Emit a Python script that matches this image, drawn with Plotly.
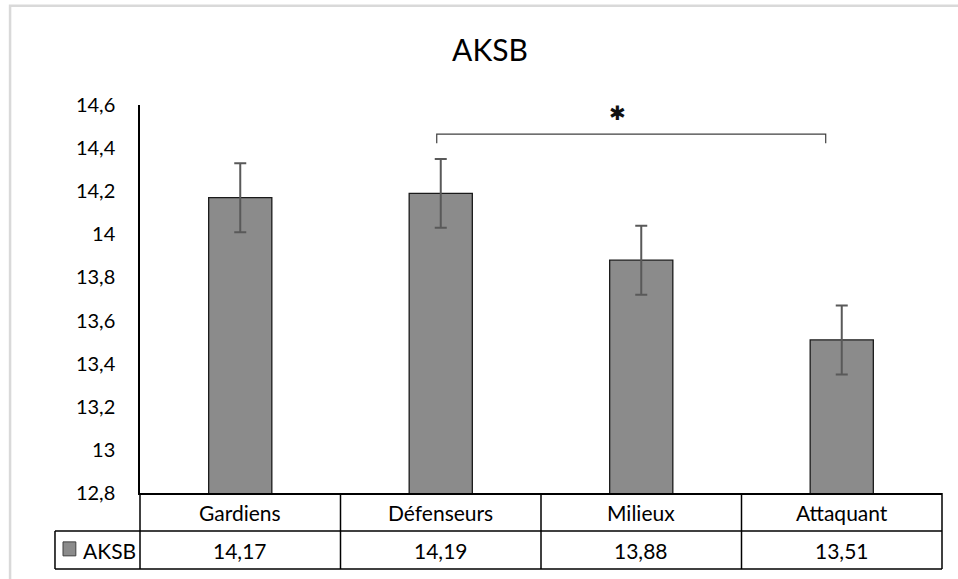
import plotly.graph_objects as go

# ---- data ----
categories = ["Gardiens", "Défenseurs", "Milieux", "Attaquant"]
series_name = "AKSB"
values = [14.17, 14.19, 13.88, 13.51]
errors = [0.16, 0.16, 0.16, 0.16]
y_tick_values = [12.8, 13.0, 13.2, 13.4, 13.6, 13.8, 14.0, 14.2, 14.4, 14.6]
y_tick_labels = ["12,8", "13", "13,2", "13,4", "13,6", "13,8", "14", "14,2", "14,4", "14,6"]
sig_bracket_x = [0.98, 2.92]   # Défenseurs vs Attaquant
sig_bracket_y = 14.465
sig_label = "✱"

FONT = "Lato, Carlito, Calibri, sans-serif"

fig = go.Figure()
fig.add_trace(go.Bar(
    x=list(range(len(categories))), y=values, width=0.315,
    marker=dict(color="#8b8b8b", line=dict(color="#1a1a1a", width=1.3)),
    error_y=dict(type="data", array=errors, visible=True,
                 color="#595959", thickness=2, width=6),
    showlegend=False, name=series_name,
))

# significance bracket
tick_drop = 0.042
fig.add_trace(go.Scatter(
    x=[sig_bracket_x[0], sig_bracket_x[0], sig_bracket_x[1], sig_bracket_x[1]],
    y=[sig_bracket_y - tick_drop, sig_bracket_y, sig_bracket_y, sig_bracket_y - tick_drop],
    mode="lines", line=dict(color="#404040", width=1.2),
    showlegend=False, hoverinfo="skip", cliponaxis=False,
))

# ---- data table below the plot ----
n = len(categories)
row_h = 0.098
label_left = -0.106
line_style = dict(color="#000000", width=1.5)
shapes = []
shapes.append(dict(type="line", xref="paper", yref="paper", x0=label_left, x1=1,
                   y0=-row_h, y1=-row_h, line=line_style))
shapes.append(dict(type="line", xref="paper", yref="paper", x0=label_left, x1=1,
                   y0=-2 * row_h, y1=-2 * row_h, line=line_style))
for i in range(n + 1):
    shapes.append(dict(type="line", xref="paper", yref="paper", x0=i / n, x1=i / n,
                       y0=0, y1=-2 * row_h, line=line_style))
shapes.append(dict(type="line", xref="paper", yref="paper", x0=label_left, x1=label_left,
                   y0=-row_h, y1=-2 * row_h, line=line_style))
# legend key square
shapes.append(dict(type="rect", xref="paper", yref="paper", x0=-0.096, x1=-0.080,
                   y0=-0.126, y1=-0.162, fillcolor="#8b8b8b",
                   line=dict(color="#404040", width=1)))
# outer chart frame
shapes.append(dict(type="rect", xref="paper", yref="paper", x0=-0.162, x1=1.2,
                   y0=-0.4, y1=1.256, line=dict(color="#d9d9d9", width=2.5),
                   fillcolor="rgba(0,0,0,0)", layer="below"))

annotations = []
annotations.append(dict(x=(sig_bracket_x[0] + sig_bracket_x[1]) / 2 - 0.07,
                        y=sig_bracket_y + 0.1, xref="x", yref="y", text=sig_label,
                        showarrow=False, yanchor="middle",
                        font=dict(family="DejaVu Sans", size=20, color="#111")))
for i, (c, v) in enumerate(zip(categories, values)):
    annotations.append(dict(x=i, xref="x", y=-row_h / 2, yref="paper", text=c,
                            showarrow=False, yanchor="middle",
                            font=dict(family=FONT, size=21, color="#000")))
    annotations.append(dict(x=i, xref="x", y=-1.5 * row_h, yref="paper",
                            text=f"{v:.2f}".replace(".", ","),
                            showarrow=False, yanchor="middle",
                            font=dict(family=FONT, size=21, color="#000")))
annotations.append(dict(x=-0.073, xref="paper", y=-1.5 * row_h, yref="paper",
                        text=series_name, showarrow=False, xanchor="left",
                        yanchor="middle", font=dict(family=FONT, size=21, color="#000")))

fig.update_layout(
    width=958, height=579,
    margin=dict(l=140, r=16, t=105, b=86),
    paper_bgcolor="white", plot_bgcolor="white",
    separators=", ",
    title=dict(text="AKSB", x=0.5115, xanchor="center", y=0.912, yanchor="middle",
               font=dict(family=FONT, size=30, color="#000")),
    xaxis=dict(range=[-0.5, n - 0.5], showticklabels=False, showgrid=False,
               zeroline=False, showline=True, linecolor="#000", linewidth=1.5,
               ticks=""),
    yaxis=dict(range=[12.8, 14.6], tickvals=y_tick_values, ticktext=y_tick_labels,
               showgrid=False, zeroline=False, showline=True, linecolor="#000",
               linewidth=1.5, ticks="", ticklabelstandoff=19,
               tickfont=dict(family=FONT, size=20, color="#000")),
    shapes=shapes, annotations=annotations,
)

fig.write_html("out.html")
